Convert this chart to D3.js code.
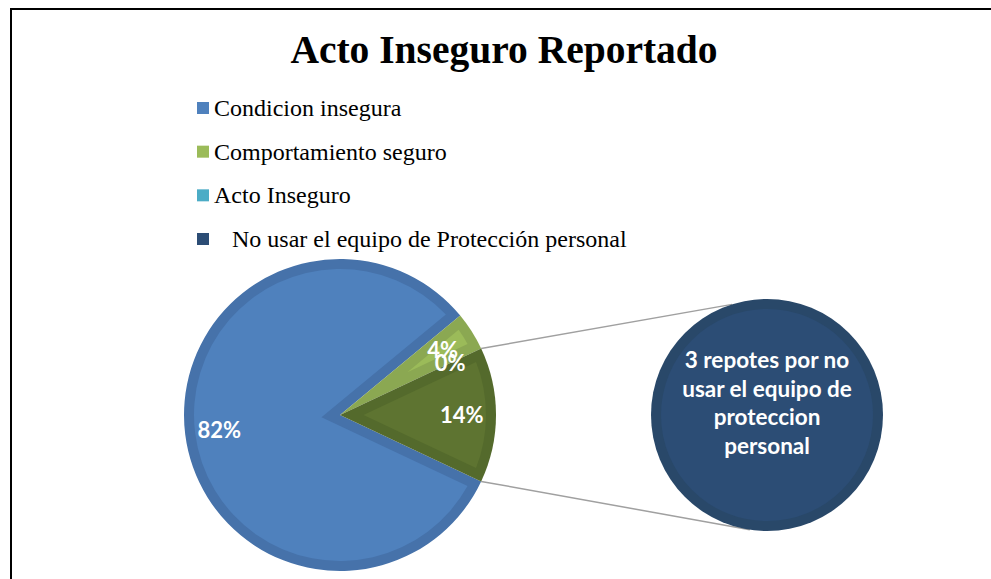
<!DOCTYPE html>
<html>
<head>
<meta charset="utf-8">
<script src="https://cdn.jsdelivr.net/npm/d3@7"></script>
<style>
  html, body { margin: 0; padding: 0; background: #fff; }
  svg { display: block; }
</style>
</head>
<body>
<svg id="chart" width="991" height="579"></svg>
<script>
// ---- data ----
const title = "Acto Inseguro Reportado";
const categories = ["Condicion insegura", "Comportamiento seguro", "Acto Inseguro", "No usar el equipo de Protección personal"];
const values = [82, 4, 0, 14];            // percent of reports
const secondaryIndex = [3];               // categories shown in the secondary pie
const secondaryText = ["3 repotes por no", "usar el equipo de", "proteccion", "personal"];

// ---- styles ----
const colors = ["#4F81BD", "#9BBB59", "#4BACC6", "#2C4D75"];
const bandColors = ["#4672AA", "#8BA852", "#439AB2", "#294869"];
const otherColor = "#5E7431", otherBand = "#546A2C";
const W = 991, H = 579;
const main = { cx: 340, cy: 415, r: 156 };
const sec = { cx: 767, cy: 415, r: 116 };
const band = 10;

const svg = d3.select("#chart");

// frame
svg.append("path").attr("d", `M11,${H} L11,9 L${W},9`)
  .attr("fill", "none").attr("stroke", "#000").attr("stroke-width", 2);

// title
svg.append("text").attr("x", 504).attr("y", 63).attr("text-anchor", "middle")
  .attr("font-family", "'Liberation Serif', 'Times New Roman', serif")
  .attr("font-weight", "bold").attr("font-size", 39.5).attr("fill", "#000")
  .text(title);

// legend
const legendY = d3.scaleLinear().domain([0, 3]).range([116, 247]);
const lg = svg.append("g");
categories.forEach((c, i) => {
  const y = legendY(i);
  lg.append("rect").attr("x", 197).attr("y", y - 14).attr("width", 12).attr("height", 12)
    .attr("fill", colors[i]);
  lg.append("text").attr("x", i === 3 ? 232 : 214).attr("y", y)
    .attr("font-family", "'Liberation Serif', 'Times New Roman', serif")
    .attr("font-size", 24).attr("fill", "#000").text(c);
});

// main pie data: primary categories + "other"
const primary = categories.map((c, i) => ({ name: c, value: values[i], color: colors[i], band: bandColors[i] }))
  .filter((d, i) => !secondaryIndex.includes(i));
const otherValue = d3.sum(secondaryIndex, i => values[i]);
const mainData = primary.concat([{ name: "Otro", value: otherValue, color: otherColor, band: otherBand, other: true }]);
const total = d3.sum(mainData, d => d.value);
const otherAngle = otherValue / total * 2 * Math.PI;
const start = Math.PI / 2 + otherAngle / 2;

const pie = d3.pie().sort(null).value(d => d.value).startAngle(start).endAngle(start + 2 * Math.PI);
const arcs = pie(mainData);
const arc = d3.arc().innerRadius(0).outerRadius(main.r);

function insetPath(a0, a1, cx, cy, r, d) {
  const th = a1 - a0;
  if (th <= 0) return null;
  const bis = (a0 + a1) / 2;
  const pd = d / Math.sin(th / 2);
  const rr = r - d;
  if (pd >= rr * 0.98) return null;
  const P = [cx + pd * Math.sin(bis), cy - pd * Math.cos(bis)];
  const s = Math.sqrt(rr * rr - d * d);
  const E0 = [cx + d * Math.cos(a0) + s * Math.sin(a0), cy + d * Math.sin(a0) - s * Math.cos(a0)];
  const da = Math.asin(d / rr);
  const p = d3.path();
  p.moveTo(P[0], P[1]);
  p.lineTo(E0[0], E0[1]);
  p.arc(cx, cy, rr, a0 + da - Math.PI / 2, a1 - da - Math.PI / 2, false);
  p.closePath();
  return p.toString();
}

// connector lines
const otherArc = arcs[arcs.length - 1];
const pt = (c, r, a) => [c.cx + r * Math.sin(a), c.cy - r * Math.cos(a)];
const conn = [
  [pt(main, main.r, otherArc.startAngle), pt(sec, sec.r, -17.5 * Math.PI / 180)],
  [pt(main, main.r, otherArc.endAngle), pt(sec, sec.r, 188.5 * Math.PI / 180)]
];
svg.append("g").selectAll("line").data(conn).join("line")
  .attr("x1", d => d[0][0]).attr("y1", d => d[0][1])
  .attr("x2", d => d[1][0]).attr("y2", d => d[1][1])
  .attr("stroke", "#A0A0A0").attr("stroke-width", 1.5);

const pg = svg.append("g");
pg.selectAll("path.full").data(arcs).join("path").attr("class", "full")
  .attr("transform", `translate(${main.cx},${main.cy})`)
  .attr("d", arc).attr("fill", d => d.data.band);
pg.selectAll("path.inset").data(arcs.filter(d => insetPath(d.startAngle, d.endAngle, 0, 0, main.r, band)))
  .join("path").attr("class", "inset")
  .attr("transform", `translate(${main.cx},${main.cy})`)
  .attr("d", d => insetPath(d.startAngle, d.endAngle, 0, 0, main.r, band))
  .attr("fill", d => d.data.color);

// percent labels
const fmt = d3.format(".0%");
const labelArc = d3.arc().innerRadius(main.r * 0.78).outerRadius(main.r * 0.78);
pg.selectAll("text").data(arcs).join("text")
  .attr("transform", d => { const c = labelArc.centroid(d); return `translate(${main.cx + c[0]},${main.cy + c[1]})`; })
  .attr("text-anchor", "middle").attr("dy", "0.36em")
  .attr("font-family", "Lato, 'Open Sans', sans-serif").attr("font-weight", "bold")
  .attr("font-size", 22).attr("fill", "#fff")
  .text(d => fmt(d.value / total));

// secondary pie (single slice = full circle)
const secData = secondaryIndex.map(i => ({ name: categories[i], value: values[i], color: colors[i], band: bandColors[i] }));
const secArcs = d3.pie().sort(null).value(d => d.value)(secData);
const sg = svg.append("g").attr("transform", `translate(${sec.cx},${sec.cy})`);
sg.selectAll("path.full").data(secArcs).join("path")
  .attr("d", d3.arc().innerRadius(0).outerRadius(sec.r)).attr("fill", d => d.data.band);
sg.selectAll("path.inner").data(secArcs).join("path")
  .attr("d", d3.arc().innerRadius(0).outerRadius(sec.r - band)).attr("fill", d => d.data.color);
const lineY = d3.scaleLinear().domain([0, secondaryText.length - 1]).range([-47, -47 + 28.5 * (secondaryText.length - 1)]);
sg.selectAll("text").data(secondaryText).join("text")
  .attr("x", 0).attr("y", (d, i) => lineY(i)).attr("text-anchor", "middle")
  .attr("font-family", "Lato, 'Open Sans', sans-serif").attr("font-weight", "bold")
  .attr("font-size", 22.5).attr("fill", "#fff").text(d => d);
</script>
</body>
</html>
